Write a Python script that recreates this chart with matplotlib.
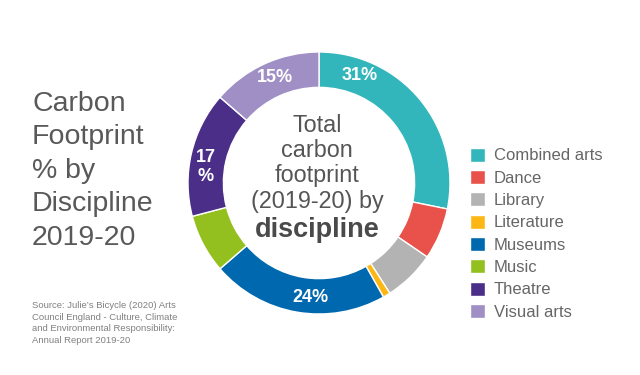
import numpy as np
import matplotlib
matplotlib.use("Agg")
import matplotlib.pyplot as plt

plt.rcParams['font.family'] = ['Liberation Sans', 'DejaVu Sans']

categories = ["Combined arts", "Dance", "Library", "Literature",
              "Museums", "Music", "Theatre", "Visual arts"]
values = [31, 7, 7, 1, 24, 8, 17, 15]
colors = ["#33B6BB", "#E9524A", "#B3B3B3", "#FDB714",
          "#0068AE", "#93C01F", "#4B2E88", "#A08FC5"]
ring_labels = ["31%", "15%", "24%", "17\n%"]
ring_label_angles = [21, -22.5, 184.5, 278]  # degrees clockwise from 12 o'clock

title_lines = ["Carbon", "Footprint", "% by", "Discipline", "2019-20"]
center_lines = ["Total", "carbon", "footprint", "(2019-20) by"]
center_bold = "discipline"
source_lines = ["Source: Julie\u2019s Bicycle (2020) Arts",
                "Council England - Culture, Climate",
                "and Environmental Responsibility:",
                "Annual Report 2019-20"]

W, H = 640, 375
fig = plt.figure(figsize=(6.4, 3.75), dpi=100)
cx, cy, R = 319, 183, 131
ax = fig.add_axes([(cx - R) / W, (H - cy - R) / H, 2 * R / W, 2 * R / H])
wedges, _ = ax.pie(values, colors=colors, startangle=90, counterclock=False,
                   radius=1.0, wedgeprops=dict(width=0.27, edgecolor="white", linewidth=1.0))
ax.set_xlim(-1, 1)
ax.set_ylim(-1, 1)
ax.set_aspect("equal")
ax.axis("off")

for lab, ang in zip(ring_labels, ring_label_angles):
    a = np.deg2rad(ang)
    r = 0.875
    ax.text(r * np.sin(a), r * np.cos(a), lab, ha="center", va="center",
            color="white", fontsize=13, fontweight="bold", linespacing=1.1)

# center text
center_baselines = [131.5, 157, 182, 208]
for s, yb in zip(center_lines, center_baselines):
    fig.text(317 / W, 1 - yb / H, s, ha="center", va="baseline",
             fontsize=16.8, color="#555555")
fig.text(317 / W, 1 - 236.5 / H, center_bold, ha="center", va="baseline",
         fontsize=19.5, fontweight="bold", color="#4A4A4A")

# left title
title_baselines = [111, 144.5, 178, 211.5, 245]
for s, yb in zip(title_lines, title_baselines):
    fig.text(32 / W, 1 - yb / H, s, ha="left", va="baseline",
             fontsize=20.5, color="#595959")

# source
for i, s in enumerate(source_lines):
    fig.text(32 / W, 1 - (308 + i * 11.7) / H, s, ha="left", va="baseline",
             fontsize=6.8, color="#808080")

leg = fig.legend(wedges, categories, loc="upper left",
                 bbox_to_anchor=(458 / W, 1 - 136 / H), frameon=False,
                 fontsize=12, handlelength=0.9, handleheight=0.9,
                 handletextpad=0.55, labelspacing=0.40, borderpad=0.2)
for t in leg.get_texts():
    t.set_color("#666666")

fig.savefig("out.png", dpi=100)
